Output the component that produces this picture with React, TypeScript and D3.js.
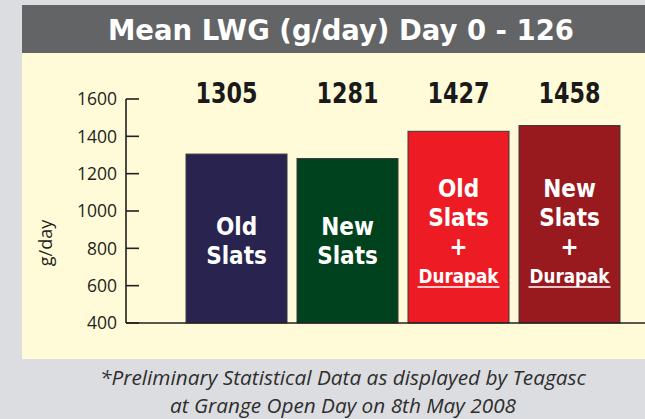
import { scaleBand, scaleLinear } from 'd3'

const categories = ['Old Slats', 'New Slats', 'Old Slats + Durapak', 'New Slats + Durapak']
const values = [1305, 1281, 1427, 1458]
const barLabels = [['Old', 'Slats'], ['New', 'Slats'], ['Old', 'Slats', '+'], ['New', 'Slats', '+']]
const hasDurapak = [false, false, true, true]
const barColors = ['#28244f', '#00421e', '#ed1c24', '#981a1f']
const yTicks = [400, 600, 800, 1000, 1200, 1400, 1600]

const title = 'Mean LWG (g/day) Day 0 - 126'
const yLabel = 'g/day'
const footnote = ['*Preliminary Statistical Data as displayed by Teagasc', 'at Grange Open Day on 8th May 2008']

const condensed = "'DejaVu Sans Condensed', 'DejaVu Sans', sans-serif"
const humanist = "'Open Sans', 'Noto Sans', sans-serif"

export default function App() {
  const width = 645
  const height = 419
  const x = scaleBand<string>().domain(categories).range([186, 620]).paddingInner(0.09).paddingOuter(0)
  const y = scaleLinear().domain([400, 1600]).range([323, 99])
  const axisX = 126
  const lineGap = 29

  return (
    <svg
      width={width}
      height={height}
      viewBox={`0 0 ${width} ${height}`}
      style={{ position: 'absolute', left: 0, top: 0, display: 'block' }}
    >
      <rect width={width} height={height} fill="#dcdde0" />
      <rect x="22" y="53" width={width - 22} height="306" fill="#fffbd8" />
      <rect x="22" y="5" width={width - 22} height="48" fill="#636466" />
      <text
        x="341"
        y="40"
        textAnchor="middle"
        fill="#ffffff"
        fontFamily={condensed}
        fontStretch="condensed"
        fontWeight="bold"
        fontSize="29"
        textLength="466"
        lengthAdjust="spacingAndGlyphs"
      >
        {title}
      </text>

      {/* bars */}
      {categories.map((c, i) => {
        const bx = x(c) ?? 0
        const top = y(values[i])
        const lines = barLabels[i]
        const n = lines.length + (hasDurapak[i] ? 1 : 0)
        // labels sit in the lower part of each bar, same height for each pair
        const first = y(400) - (n > 2 ? 135 : 97)
        const cx = bx + x.bandwidth() / 2
        return (
          <g key={c}>
            <rect x={bx} y={top} width={x.bandwidth()} height={y(400) - top} fill={barColors[i]} stroke="#3a3a3a" strokeWidth="1" />
            <text
              x={cx - (i === 0 ? 10 : 0)}
              y="103"
              textAnchor="middle"
              fill="#1a1a1a"
              fontFamily={condensed}
              fontStretch="condensed"
              fontWeight="bold"
              fontSize="29"
              textLength="62"
              lengthAdjust="spacingAndGlyphs"
            >
              {values[i]}
            </text>
            {lines.map((t, j) => (
              <text
                key={t + j}
                x={cx}
                y={first + j * lineGap}
                dy="0.36em"
                textAnchor="middle"
                fill="#ffffff"
                fontFamily={condensed}
                fontStretch="condensed"
                fontWeight="bold"
                fontSize="24"
              >
                {t}
              </text>
            ))}
            {hasDurapak[i] && (
              <g>
                <text
                  x={cx}
                  y={first + lines.length * lineGap + 1}
                  dy="0.36em"
                  textAnchor="middle"
                  fill="#ffffff"
                  fontFamily={condensed}
                  fontWeight="bold"
                  fontSize="19"
                  textLength="80"
                  lengthAdjust="spacingAndGlyphs"
                >
                  Durapak
                </text>
                <line
                  x1={cx - 41}
                  x2={cx + 41}
                  y1={first + lines.length * lineGap + 12}
                  y2={first + lines.length * lineGap + 12}
                  stroke="#ffffff"
                  strokeWidth="1.6"
                />
              </g>
            )}
          </g>
        )
      })}

      {/* axis */}
      <line x1={axisX} x2={axisX} y1={y(1600)} y2={y(400)} stroke="#231f20" strokeWidth="1.6" />
      <line x1={axisX} x2={width} y1={y(400)} y2={y(400)} stroke="#231f20" strokeWidth="1.6" />
      {yTicks.map((t) => (
        <g key={t}>
          <line x1={axisX} x2={axisX + 13} y1={y(t)} y2={y(t)} stroke="#231f20" strokeWidth="1.6" />
          <text x={axisX - 9} y={y(t)} dy="0.36em" textAnchor="end" fill="#231f20" fontFamily={humanist} fontSize="17.5">
            {t}
          </text>
        </g>
      ))}
      <text
        transform={`translate(46, 243) rotate(-90)`}
        dy="0.32em"
        textAnchor="middle"
        fill="#231f20"
        fontFamily={humanist}
        fontSize="18"
      >
        {yLabel}
      </text>

      {/* footnote */}
      {footnote.map((t, i) => (
        <text
          key={t}
          x="343"
          y={385 + i * 28}
          textAnchor="middle"
          fill="#2e2e2e"
          fontFamily={humanist}
          fontStyle="italic"
          fontSize="20"
          textLength={i === 0 ? 486 : 346}
          lengthAdjust="spacingAndGlyphs"
        >
          {t}
        </text>
      ))}
    </svg>
  )
}
